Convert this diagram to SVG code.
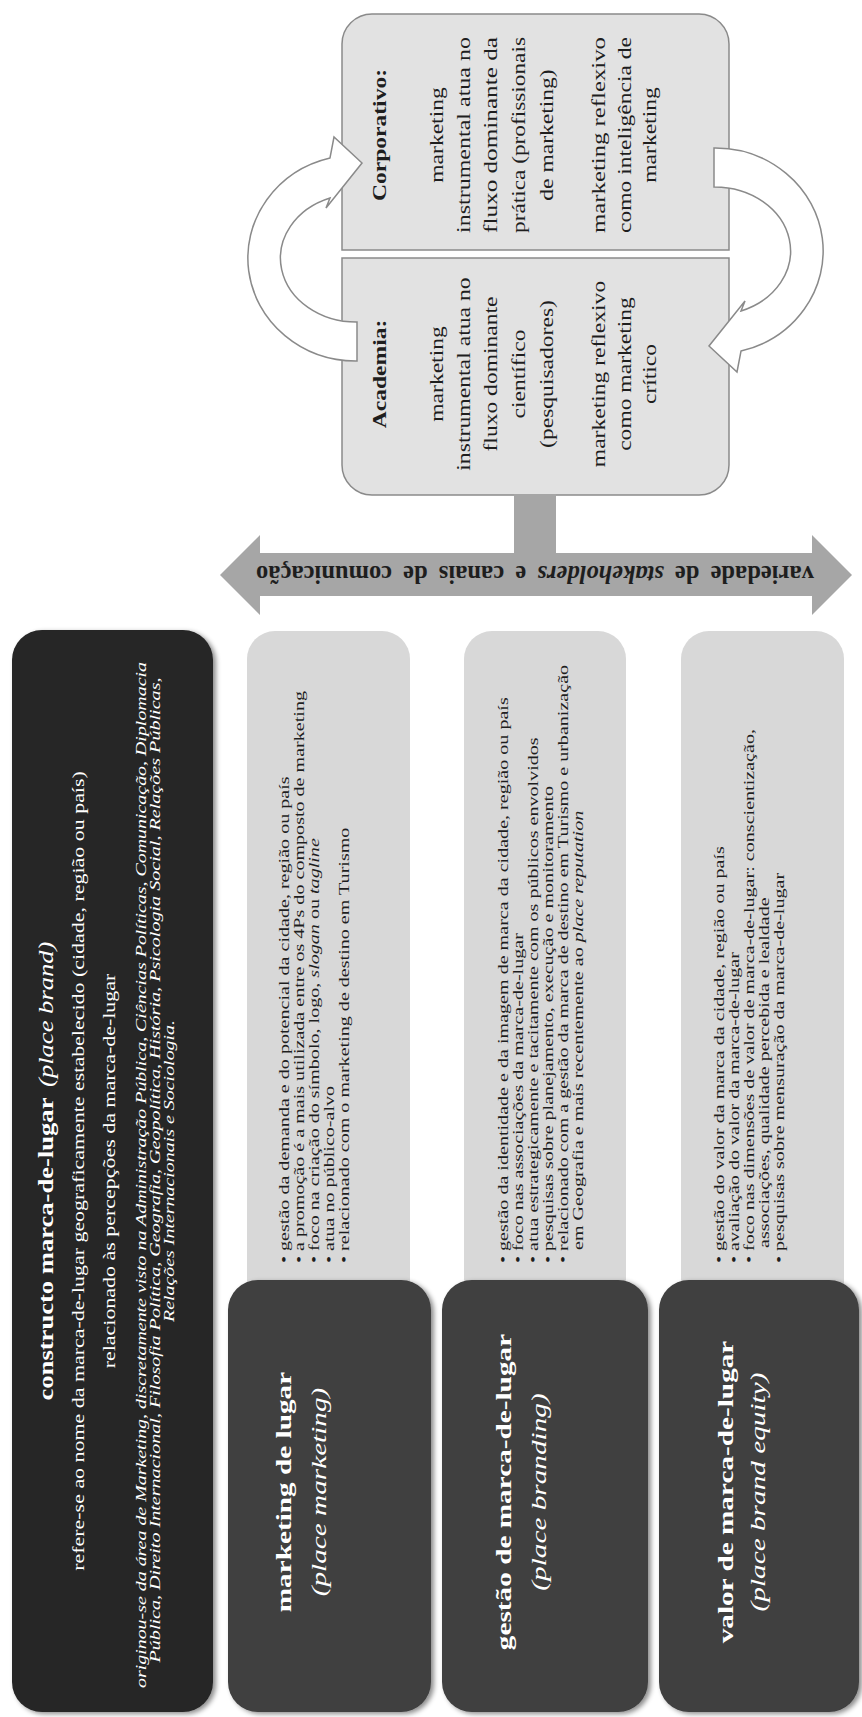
<svg xmlns="http://www.w3.org/2000/svg" width="862" height="1717" viewBox="0 0 862 1717">
<defs>
<style>
text{font-family:"Liberation Serif","Times New Roman",serif;dominant-baseline:central}
.w{fill:#ffffff}
.k{fill:#1e1e1e}
.b{font-weight:bold}
.i{font-style:italic}
.lt{font-size:15px}
.dt{font-size:22px}
.tp{font-size:19px}
.light{fill:#d8d8d8}
.dark{fill:#3f3f3f}
.top{fill:#e2e2e2;stroke:#8a8a8a;stroke-width:1.5}
.curve{fill:#ffffff;stroke:#8a8a8a;stroke-width:1.5}
.grey{fill:#a6a6a6}
</style>
<filter id="sh" x="-10%" y="-10%" width="130%" height="130%">
<feDropShadow dx="3" dy="2" stdDeviation="2.5" flood-color="#000" flood-opacity="0.45"/>
</filter>
</defs>
<rect width="862" height="1717" fill="#ffffff"/>

<g id="node-corporativo">
<path class="top" d="M342,250 V44 A30,30 0 0 1 372,14 H699 A30,30 0 0 1 729,44 V250 Z"/>
<g class="k tp" text-anchor="middle">
<text class="b" transform="translate(380,135) rotate(-90) scale(1.24,1)">Corporativo:</text>
<text transform="translate(437,135) rotate(-90) scale(1.24,1)">marketing</text>
<text transform="translate(464,135) rotate(-90) scale(1.24,1)" textLength="158" lengthAdjust="spacingAndGlyphs">instrumental  atua no</text>
<text transform="translate(491,135) rotate(-90) scale(1.24,1)" textLength="158" lengthAdjust="spacingAndGlyphs">fluxo dominante da</text>
<text transform="translate(519,135) rotate(-90) scale(1.24,1)" textLength="158" lengthAdjust="spacingAndGlyphs">prática (profissionais</text>
<text transform="translate(547,135) rotate(-90) scale(1.24,1)">de marketing)</text>
<text transform="translate(599,135) rotate(-90) scale(1.24,1)" textLength="158" lengthAdjust="spacingAndGlyphs">marketing reflexivo</text>
<text transform="translate(625,135) rotate(-90) scale(1.24,1)" textLength="158" lengthAdjust="spacingAndGlyphs">como inteligência de</text>
<text transform="translate(650,135) rotate(-90) scale(1.24,1)">marketing</text>
</g>
</g>

<g id="node-academia">
<path class="top" d="M342,258 H729 V465 A30,30 0 0 1 699,495 H372 A30,30 0 0 1 342,465 Z"/>
<g class="k tp" text-anchor="middle">
<text class="b" transform="translate(380,374) rotate(-90) scale(1.24,1)">Academia:</text>
<text transform="translate(437,374) rotate(-90) scale(1.24,1)">marketing</text>
<text transform="translate(464,374) rotate(-90) scale(1.24,1)" textLength="156" lengthAdjust="spacingAndGlyphs">instrumental  atua no</text>
<text transform="translate(491,374) rotate(-90) scale(1.24,1)">fluxo dominante</text>
<text transform="translate(519,374) rotate(-90) scale(1.24,1)">científico</text>
<text transform="translate(547,374) rotate(-90) scale(1.24,1)">(pesquisadores)</text>
<text transform="translate(599,374) rotate(-90) scale(1.24,1)">marketing reflexivo</text>
<text transform="translate(625,374) rotate(-90) scale(1.24,1)">como marketing</text>
<text transform="translate(650,374) rotate(-90) scale(1.24,1)">crítico</text>
</g>
</g>

<g id="connectors">
<path class="curve" d="M357,361 A108,103 0 0 1 330,158 L334,137 L362,163 L326,208 L330,198 A76,64 0 0 0 357,322 Z"/>
<path class="curve" transform="rotate(180 535.5 254.5)" d="M357,361 A108,103 0 0 1 330,158 L334,137 L362,163 L326,208 L330,198 A76,64 0 0 0 357,322 Z"/>
<rect class="grey" x="514" y="494" width="42" height="61"/>
<polygon class="grey" points="220,575 260,535 260,553 812,553 812,535 852,575 812,615 812,596 260,596 260,615"/>
<text class="k b" font-size="24.5" text-anchor="middle" word-spacing="5" transform="translate(535,575) rotate(180) scale(1,1.05)">variedade de <tspan class="i">stakeholders</tspan> e canais de comunicação</text>
</g>

<g id="node-constructo">
<rect x="12" y="630" width="201" height="1082" rx="30" fill="#262626" filter="url(#sh)"/>
<g class="w" text-anchor="middle">
<text font-size="20" transform="translate(46,1171) rotate(-90) scale(1.33,1)"><tspan class="b">constructo marca-de-lugar</tspan><tspan class="i" dx="8">(place brand)</tspan></text>
<text font-size="16.5" transform="translate(78,1171) rotate(-90) scale(1.33,1)">refere-se ao nome da marca-de-lugar geograficamente estabelecido (cidade, região ou país)</text>
<text font-size="16.5" transform="translate(109,1171) rotate(-90) scale(1.33,1)">relacionado às percepções da marca-de-lugar</text>
<text class="i" font-size="15" transform="translate(141,1175) rotate(-90)" textLength="1026" lengthAdjust="spacingAndGlyphs">originou-se da área de Marketing, discretamente visto na Administração Pública, Ciências Políticas, Comunicação, Diplomacia</text>
<text class="i" font-size="15" transform="translate(155,1170) rotate(-90)" textLength="985" lengthAdjust="spacingAndGlyphs">Pública, Direito Internacional, Filosofia Política, Geografia, Geopolítica, História, Psicologia Social, Relações Públicas,</text>
<text class="i" font-size="15" transform="translate(169,1171) rotate(-90) scale(1.33,1)">Relações Internacionais e Sociologia.</text>
</g>
</g>

<g id="node-marketing-detalhes">
<rect class="light" x="247" y="631" width="163" height="700" rx="28"/>
<g class="k lt">
<text transform="translate(284,1263) rotate(-90) scale(1.34,1)">• gestão da demanda e do potencial da cidade, região ou país</text>
<text transform="translate(299,1263) rotate(-90) scale(1.34,1)">• a promoção é a mais utilizada entre os 4Ps do composto de marketing</text>
<text transform="translate(314,1263) rotate(-90) scale(1.34,1)">• foco na criação do símbolo, logo, <tspan class="i">slogan</tspan> ou <tspan class="i">tagline</tspan></text>
<text transform="translate(329,1263) rotate(-90) scale(1.34,1)">• atua no público-alvo</text>
<text transform="translate(344,1263) rotate(-90) scale(1.34,1)">• relacionado com o marketing de destino em Turismo</text>
</g>
</g>

<g id="node-branding-detalhes">
<rect class="light" x="464" y="631" width="162" height="700" rx="28"/>
<g class="k lt">
<text transform="translate(503,1263) rotate(-90) scale(1.34,1)">• gestão da identidade e da imagem de marca da cidade, região ou país</text>
<text transform="translate(518,1263) rotate(-90) scale(1.34,1)">• foco nas associações da marca-de-lugar</text>
<text transform="translate(533,1263) rotate(-90) scale(1.34,1)">• atua estrategicamente e tacitamente com os públicos envolvidos</text>
<text transform="translate(548,1263) rotate(-90) scale(1.34,1)">• pesquisas sobre planejamento, execução e monitoramento</text>
<text transform="translate(563,1263) rotate(-90) scale(1.34,1)">• relacionado com a gestão da marca de destino em Turismo e urbanização</text>
<text transform="translate(578,1250) rotate(-90) scale(1.34,1)">em Geografia e mais recentemente ao <tspan class="i">place reputation</tspan></text>
</g>
</g>

<g id="node-equity-detalhes">
<rect class="light" x="681" y="631" width="163" height="700" rx="28"/>
<g class="k lt">
<text transform="translate(719,1263) rotate(-90) scale(1.34,1)">• gestão do valor da marca da cidade, região ou país</text>
<text transform="translate(734,1263) rotate(-90) scale(1.34,1)">• avaliação do valor da marca-de-lugar</text>
<text transform="translate(749,1263) rotate(-90) scale(1.34,1)">• foco nas dimensões de valor de marca-de-lugar: conscientização,</text>
<text transform="translate(764,1248) rotate(-90) scale(1.34,1)">associações, qualidade percebida e lealdade</text>
<text transform="translate(779,1263) rotate(-90) scale(1.34,1)">• pesquisas sobre mensuração da marca-de-lugar</text>
</g>
</g>

<g id="node-marketing">
<rect class="dark" x="228" y="1280" width="203" height="432" rx="30" filter="url(#sh)"/>
<g class="w dt" text-anchor="middle">
<text class="b" transform="translate(284,1492) rotate(-90) scale(1.33,1)">marketing de lugar</text>
<text class="i" transform="translate(319,1492) rotate(-90) scale(1.33,1)">(place marketing)</text>
</g>
</g>

<g id="node-branding">
<rect class="dark" x="442" y="1280" width="206" height="432" rx="30" filter="url(#sh)"/>
<g class="w dt" text-anchor="middle">
<text class="b" transform="translate(504,1492) rotate(-90) scale(1.33,1)">gestão de marca-de-lugar</text>
<text class="i" transform="translate(539,1492) rotate(-90) scale(1.33,1)">(place branding)</text>
</g>
</g>

<g id="node-equity">
<rect class="dark" x="659" y="1280" width="200" height="432" rx="30" filter="url(#sh)"/>
<g class="w dt" text-anchor="middle">
<text class="b" transform="translate(726,1492) rotate(-90) scale(1.33,1)">valor de marca-de-lugar</text>
<text class="i" transform="translate(758,1492) rotate(-90) scale(1.33,1)">(place brand equity)</text>
</g>
</g>
</svg>
